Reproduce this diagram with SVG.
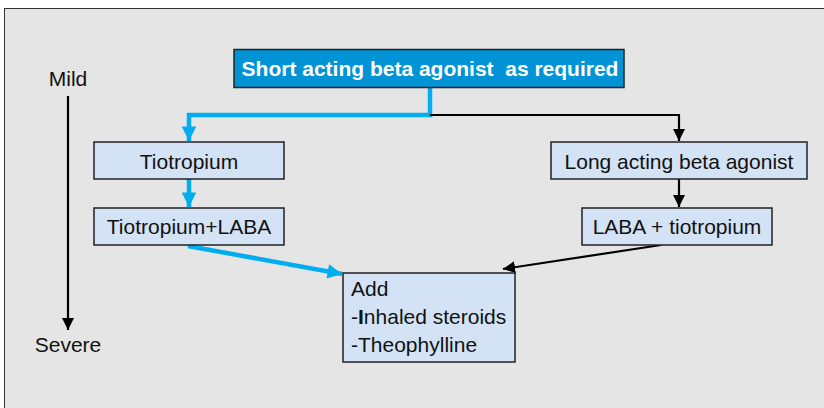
<svg xmlns="http://www.w3.org/2000/svg" width="824" height="408" viewBox="0 0 824 408">
<defs>
<style>
text{font-family:"Liberation Sans",Arial,sans-serif;font-size:21px;fill:#111;white-space:pre}
.box{fill:#d3e3f5;stroke:#222;stroke-width:1.5}
.blue{stroke:#00aeef;stroke-width:4.5;fill:none}
.blk{stroke:#000;stroke-width:2.2;fill:none}
</style>
<marker id="ab" viewBox="0 0 10 10" refX="10" refY="5" markerWidth="3.4" markerHeight="3.2" markerUnits="strokeWidth" orient="auto"><path d="M0,0L10,5L0,10z" fill="#00aeef"/></marker>
<marker id="ak" viewBox="0 0 10 10" refX="10" refY="5" markerWidth="5.5" markerHeight="6" markerUnits="strokeWidth" orient="auto"><path d="M0,0L10,5L0,10z" fill="#000"/></marker>
</defs>
<rect x="0" y="0" width="824" height="408" fill="#fff"/>
<rect x="4.5" y="8.5" width="830" height="410" fill="#e5e5e5" stroke="#333" stroke-width="1"/>
<g id="scale">
<text x="68" y="86" text-anchor="middle">Mild</text>
<line x1="68" y1="96" x2="68" y2="330" class="blk" marker-end="url(#ak)"/>
<text x="68" y="352" text-anchor="middle">Severe</text>
</g>
<g id="connectors">
<polyline class="blue" points="430,87 430,115 189,115 189,141" marker-end="url(#ab)"/>
<polyline class="blk" points="430,115 679,115 679,141" marker-end="url(#ak)"/>
<line class="blue" x1="189" y1="179" x2="189" y2="207" marker-end="url(#ab)"/>
<line class="blk" x1="679" y1="179" x2="679" y2="207" marker-end="url(#ak)"/>
<line class="blue" x1="188" y1="246" x2="342" y2="274" marker-end="url(#ab)"/>
<line class="blk" x1="661" y1="245" x2="503" y2="269" marker-end="url(#ak)"/>
</g>
<g id="saba">
<rect x="234" y="49.5" width="390" height="38" fill="#0093d6" stroke="#222" stroke-width="1.5"/>
<text x="430" y="75.5" text-anchor="middle" font-weight="bold" style="fill:#fff">Short acting beta agonist  as required</text>
</g>
<g id="tiotropium">
<rect class="box" x="94" y="142" width="190" height="37"/>
<text x="189" y="169" text-anchor="middle">Tiotropium</text>
</g>
<g id="tiotropium-laba">
<rect class="box" x="94" y="208" width="190" height="37"/>
<text x="189" y="234" text-anchor="middle">Tiotropium+LABA</text>
</g>
<g id="laba">
<rect class="box" x="551" y="142" width="256" height="37"/>
<text x="679" y="169" text-anchor="middle">Long acting beta agonist</text>
</g>
<g id="laba-tiotropium">
<rect class="box" x="582" y="208" width="190" height="37"/>
<text x="677" y="234" text-anchor="middle">LABA + tiotropium</text>
</g>
<g id="add">
<rect class="box" x="343" y="273" width="172" height="89"/>
<text x="351" y="296">Add</text>
<text x="351" y="324">-<tspan font-weight="bold">I</tspan>nhaled steroids</text>
<text x="351" y="352">-Theophylline</text>
</g>
</svg>
